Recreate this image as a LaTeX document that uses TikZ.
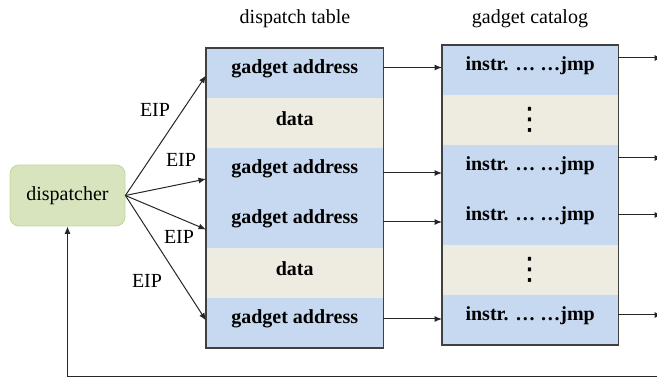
\documentclass[tikz,border=0pt]{standalone}
\usepackage{fontspec}
\setmainfont{Liberation Serif}
\newfontfamily\symbolfont{DejaVu Sans}
\usetikzlibrary{arrows.meta,calc}

\definecolor{rowblue}{HTML}{C6D9F1}
\definecolor{rowtan}{HTML}{EEECE1}
\definecolor{dispfill}{HTML}{D7E4BD}
\definecolor{dispedge}{HTML}{C3D69B}
\definecolor{frame}{HTML}{404040}

\begin{document}
\begin{tikzpicture}[x=1pt,y=-1pt,
  txt/.style={font=\fontsize{20}{24}\selectfont, inner sep=0pt},
  rowbox/.style={anchor=north west, inner sep=0pt, minimum height=49.6pt,
    font=\bfseries\fontsize{20}{24}\selectfont},
  tabrow/.style={rowbox, minimum width=177pt},
  catrow/.style={rowbox, minimum width=176pt},
  blue row/.style={fill=rowblue, text height=14pt, text depth=12.6pt},
  tan row/.style={fill=rowtan, text height=14pt, text depth=8pt},
  dots row/.style={fill=rowtan, font=\symbolfont\fontsize{31}{33}\selectfont},
  tableframe/.style={draw=frame, line width=1.2pt},
  link/.style={-{Latex[length=7.5pt,width=6pt]}, line width=1pt, draw=black!85},
  dispbox/.style={draw=dispedge, fill=dispfill, rounded corners=9pt,
    minimum width=115pt, minimum height=61pt, line width=0.8pt,
    font=\fontsize{20}{24}\selectfont}
]
\useasboundingbox (0,0) rectangle (657,379);

% column titles
\node[txt] (ttab) at (295,19) {dispatch table};
\node[txt] (tcat) at (530,19) {gadget catalog};

% dispatch table
\node[tabrow, blue row] (d1) at (206,48) {gadget address};
\node[tabrow, tan row]  (d2) at (d1.south west) {data};
\node[tabrow, blue row] (d3) at (d2.south west) {gadget address};
\node[tabrow, blue row] (d4) at (d3.south west) {gadget address};
\node[tabrow, tan row]  (d5) at (d4.south west) {data};
\node[tabrow, blue row] (d6) at (d5.south west) {gadget address};
\draw[tableframe] (d1.north west) rectangle (d6.south east);

% gadget catalog
\node[catrow, blue row] (c1) at (442,45) {instr. … …jmp};
\node[catrow, dots row] (c2) at (c1.south west) {⋮};
\node[catrow, blue row] (c3) at (c2.south west) {instr. … …jmp};
\node[catrow, blue row] (c4) at (c3.south west) {instr. … …jmp};
\node[catrow, dots row] (c5) at (c4.south west) {⋮};
\node[catrow, blue row] (c6) at (c5.south west) {instr. … …jmp};
\draw[tableframe] (c1.north west) rectangle (c6.south east);

% dispatcher
\node[dispbox] (disp) at (67.5,195.5) {dispatcher};

% dispatcher to table entries
\draw[link] (disp.east) -- ($(d1.west)+(0,2.5)$);
\draw[link] (disp.east) -- ($(d3.west)+(0,6)$);
\draw[link] (disp.east) -- ($(d4.west)+(0,6.5)$);
\draw[link] (disp.east) -- ($(d6.west)+(0,-2.5)$);

\node[txt] (eip1) at (155,110) {EIP};
\node[txt] (eip2) at (181,160) {EIP};
\node[txt] (eip3) at (179,237) {EIP};
\node[txt] (eip4) at (147,281) {EIP};

% table entries to gadgets
\draw[link] ($(d1.east)+(0,-5.5)$) coordinate (a1) -- (a1 -| c1.west);
\draw[link] ($(d3.east)+(0,0)$)    coordinate (a3) -- (a3 -| c3.west);
\draw[link] ($(d4.east)+(0,-1)$)   coordinate (a4) -- (a4 -| c4.west);
\draw[link] ($(d6.east)+(0,-4)$)   coordinate (a6) -- (a6 -| c6.west);

% gadgets jump onward
\coordinate (o1) at (662,58);
\coordinate (o3) at (662,158);
\coordinate (o4) at (662,215);
\coordinate (o6) at (662,315);
\draw[link] (c1.east |- o1) -- (o1);
\draw[link] (c3.east |- o3) -- (o3);
\draw[link] (c4.east |- o4) -- (o4);
\draw[link] (c6.east |- o6) -- (o6);

% return path to the dispatcher
\coordinate (fb) at (662,377);
\draw[link] (fb) -| (disp.south);
\end{tikzpicture}
\end{document}
